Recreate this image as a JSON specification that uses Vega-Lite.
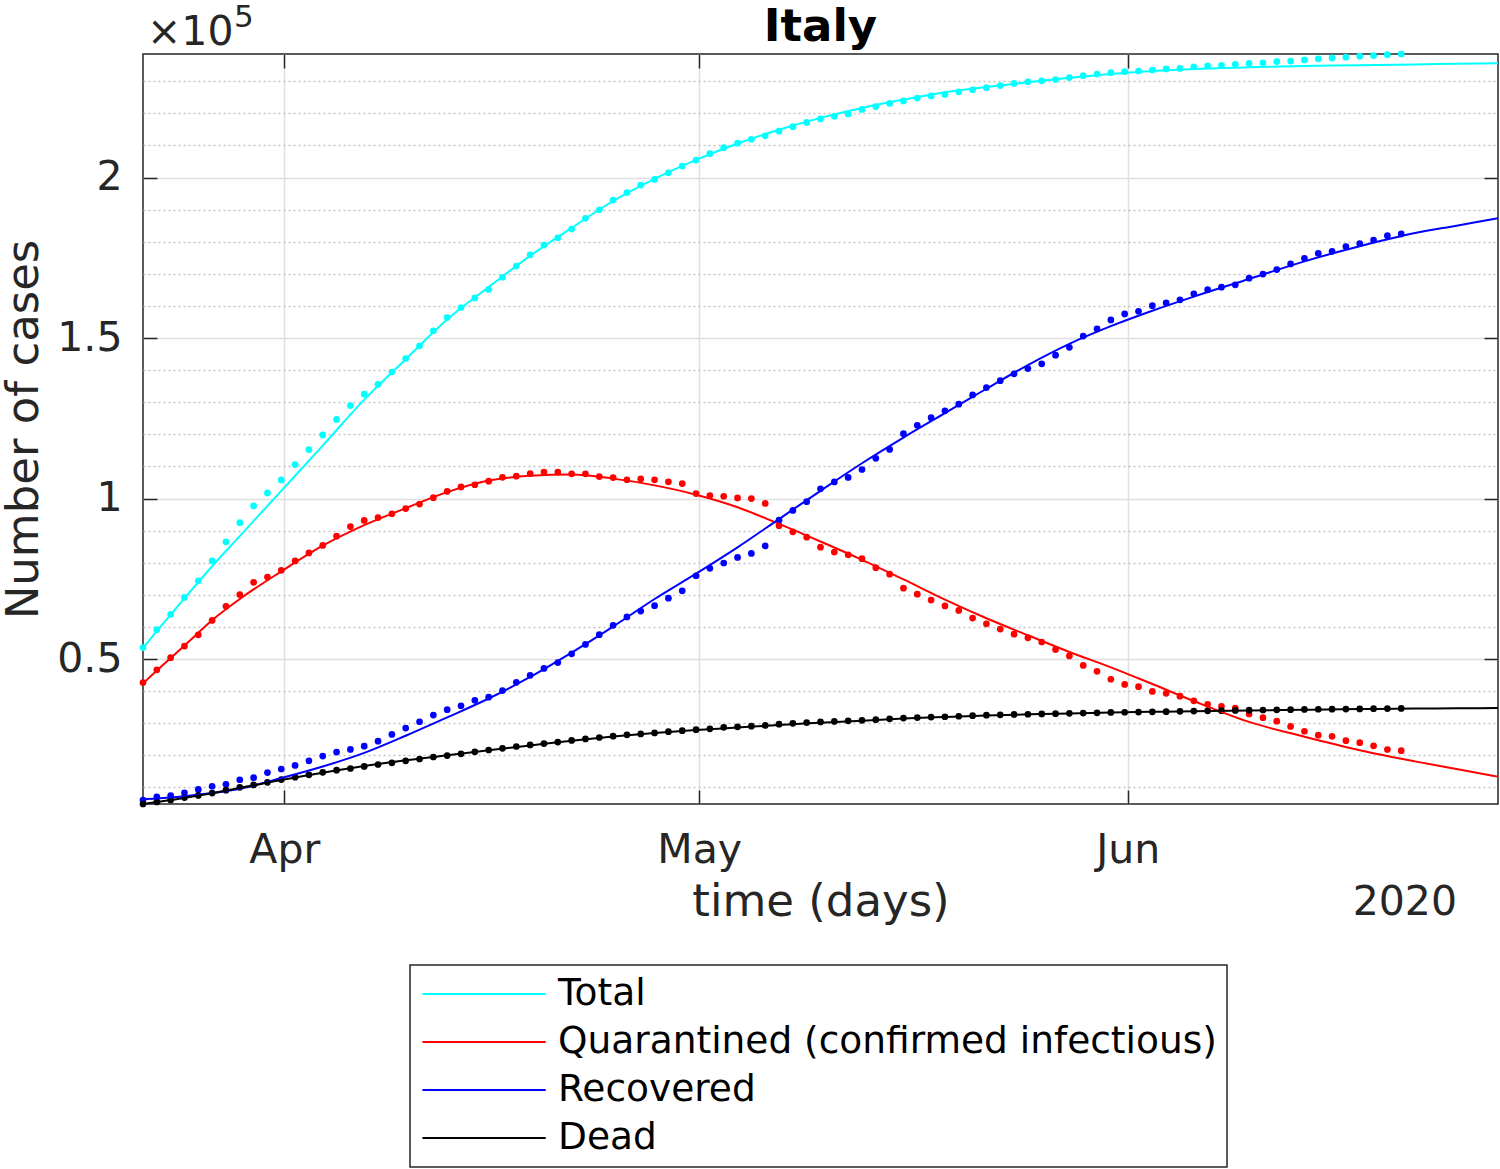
{
  "$schema": "https://vega.github.io/schema/vega-lite/v6.json",
  "width": 1355,
  "height": 750,
  "autosize": {"type": "none"},
  "padding": {"left": 143, "top": 54, "right": 2, "bottom": 365},
  "background": "#ffffff",
  "datasets": {
    "observed": [
      {"t":"2020-03-21T18:40","Total":53578,"Quarantined":42681,"Recovered":6072,"Dead":4825},
      {"t":"2020-03-22T18:40","Total":59138,"Quarantined":46638,"Recovered":7024,"Dead":5476},
      {"t":"2020-03-23T18:40","Total":63927,"Quarantined":50418,"Recovered":7432,"Dead":6077},
      {"t":"2020-03-24T18:40","Total":69176,"Quarantined":54030,"Recovered":8326,"Dead":6820},
      {"t":"2020-03-25T18:40","Total":74386,"Quarantined":57521,"Recovered":9362,"Dead":7503},
      {"t":"2020-03-26T18:40","Total":80589,"Quarantined":62013,"Recovered":10361,"Dead":8215},
      {"t":"2020-03-27T18:40","Total":86498,"Quarantined":66414,"Recovered":10950,"Dead":9134},
      {"t":"2020-03-28T18:40","Total":92472,"Quarantined":70065,"Recovered":12384,"Dead":10023},
      {"t":"2020-03-29T18:40","Total":97689,"Quarantined":73880,"Recovered":13030,"Dead":10779},
      {"t":"2020-03-30T18:40","Total":101739,"Quarantined":75528,"Recovered":14620,"Dead":11591},
      {"t":"2020-03-31T18:40","Total":105792,"Quarantined":77635,"Recovered":15729,"Dead":12428},
      {"t":"2020-04-01T18:40","Total":110574,"Quarantined":80572,"Recovered":16847,"Dead":13155},
      {"t":"2020-04-02T18:40","Total":115242,"Quarantined":83049,"Recovered":18278,"Dead":13915},
      {"t":"2020-04-03T18:40","Total":119827,"Quarantined":85388,"Recovered":19758,"Dead":14681},
      {"t":"2020-04-04T18:40","Total":124632,"Quarantined":88274,"Recovered":20996,"Dead":15362},
      {"t":"2020-04-05T18:40","Total":128948,"Quarantined":91246,"Recovered":21815,"Dead":15887},
      {"t":"2020-04-06T18:40","Total":132547,"Quarantined":93187,"Recovered":22837,"Dead":16523},
      {"t":"2020-04-07T18:40","Total":135586,"Quarantined":94067,"Recovered":24392,"Dead":17127},
      {"t":"2020-04-08T18:40","Total":139422,"Quarantined":95262,"Recovered":26491,"Dead":17669},
      {"t":"2020-04-09T18:40","Total":143626,"Quarantined":96877,"Recovered":28470,"Dead":18279},
      {"t":"2020-04-10T18:40","Total":147577,"Quarantined":98273,"Recovered":30455,"Dead":18849},
      {"t":"2020-04-11T18:40","Total":152271,"Quarantined":100269,"Recovered":32534,"Dead":19468},
      {"t":"2020-04-12T18:40","Total":156363,"Quarantined":102253,"Recovered":34211,"Dead":19899},
      {"t":"2020-04-13T18:40","Total":159516,"Quarantined":103616,"Recovered":35435,"Dead":20465},
      {"t":"2020-04-14T18:40","Total":162488,"Quarantined":104291,"Recovered":37130,"Dead":21067},
      {"t":"2020-04-15T18:40","Total":165155,"Quarantined":105418,"Recovered":38092,"Dead":21645},
      {"t":"2020-04-16T18:40","Total":168941,"Quarantined":106607,"Recovered":40164,"Dead":22170},
      {"t":"2020-04-17T18:40","Total":172434,"Quarantined":106962,"Recovered":42727,"Dead":22745},
      {"t":"2020-04-18T18:40","Total":175925,"Quarantined":107771,"Recovered":44927,"Dead":23227},
      {"t":"2020-04-19T18:40","Total":178972,"Quarantined":108257,"Recovered":47055,"Dead":23660},
      {"t":"2020-04-20T18:40","Total":181228,"Quarantined":108237,"Recovered":48877,"Dead":24114},
      {"t":"2020-04-21T18:40","Total":183957,"Quarantined":107709,"Recovered":51600,"Dead":24648},
      {"t":"2020-04-22T18:40","Total":187327,"Quarantined":107699,"Recovered":54543,"Dead":25085},
      {"t":"2020-04-23T18:40","Total":189973,"Quarantined":106848,"Recovered":57576,"Dead":25549},
      {"t":"2020-04-24T18:40","Total":192994,"Quarantined":106527,"Recovered":60498,"Dead":25969},
      {"t":"2020-04-25T18:40","Total":195351,"Quarantined":105847,"Recovered":63120,"Dead":26384},
      {"t":"2020-04-26T18:40","Total":197675,"Quarantined":106103,"Recovered":64928,"Dead":26644},
      {"t":"2020-04-27T18:40","Total":199414,"Quarantined":105813,"Recovered":66624,"Dead":26977},
      {"t":"2020-04-28T18:40","Total":201505,"Quarantined":105205,"Recovered":68941,"Dead":27359},
      {"t":"2020-04-29T18:40","Total":203591,"Quarantined":104657,"Recovered":71252,"Dead":27682},
      {"t":"2020-04-30T18:40","Total":205463,"Quarantined":101551,"Recovered":75945,"Dead":27967},
      {"t":"2020-05-01T18:40","Total":207428,"Quarantined":100943,"Recovered":78249,"Dead":28236},
      {"t":"2020-05-02T18:40","Total":209328,"Quarantined":100704,"Recovered":79914,"Dead":28710},
      {"t":"2020-05-03T18:40","Total":210717,"Quarantined":100179,"Recovered":81654,"Dead":28884},
      {"t":"2020-05-04T18:40","Total":211938,"Quarantined":99980,"Recovered":82879,"Dead":29079},
      {"t":"2020-05-05T18:40","Total":213013,"Quarantined":98467,"Recovered":85231,"Dead":29315},
      {"t":"2020-05-06T18:40","Total":214457,"Quarantined":91528,"Recovered":93245,"Dead":29684},
      {"t":"2020-05-07T18:40","Total":215858,"Quarantined":89624,"Recovered":96276,"Dead":29958},
      {"t":"2020-05-08T18:40","Total":217185,"Quarantined":87961,"Recovered":99023,"Dead":30201},
      {"t":"2020-05-09T18:40","Total":218268,"Quarantined":84842,"Recovered":103031,"Dead":30395},
      {"t":"2020-05-10T18:40","Total":219070,"Quarantined":83324,"Recovered":105186,"Dead":30560},
      {"t":"2020-05-11T18:40","Total":219814,"Quarantined":82488,"Recovered":106587,"Dead":30739},
      {"t":"2020-05-12T18:40","Total":221216,"Quarantined":81266,"Recovered":109039,"Dead":30911},
      {"t":"2020-05-13T18:40","Total":222104,"Quarantined":78457,"Recovered":112541,"Dead":31106},
      {"t":"2020-05-14T18:40","Total":223096,"Quarantined":76440,"Recovered":115288,"Dead":31368},
      {"t":"2020-05-15T18:40","Total":223885,"Quarantined":72070,"Recovered":120205,"Dead":31610},
      {"t":"2020-05-16T18:40","Total":224760,"Quarantined":70187,"Recovered":122810,"Dead":31763},
      {"t":"2020-05-17T18:40","Total":225435,"Quarantined":68351,"Recovered":125176,"Dead":31908},
      {"t":"2020-05-18T18:40","Total":225886,"Quarantined":66553,"Recovered":127326,"Dead":32007},
      {"t":"2020-05-19T18:40","Total":226699,"Quarantined":65129,"Recovered":129401,"Dead":32169},
      {"t":"2020-05-20T18:40","Total":227364,"Quarantined":62752,"Recovered":132282,"Dead":32330},
      {"t":"2020-05-21T18:40","Total":228006,"Quarantined":60960,"Recovered":134560,"Dead":32486},
      {"t":"2020-05-22T18:40","Total":228658,"Quarantined":59322,"Recovered":136720,"Dead":32616},
      {"t":"2020-05-23T18:40","Total":229327,"Quarantined":57752,"Recovered":138840,"Dead":32735},
      {"t":"2020-05-24T18:40","Total":229858,"Quarantined":56594,"Recovered":140479,"Dead":32785},
      {"t":"2020-05-25T18:40","Total":230158,"Quarantined":55300,"Recovered":141981,"Dead":32877},
      {"t":"2020-05-26T18:40","Total":230555,"Quarantined":52942,"Recovered":144658,"Dead":32955},
      {"t":"2020-05-27T18:40","Total":231139,"Quarantined":50966,"Recovered":147101,"Dead":33072},
      {"t":"2020-05-28T18:40","Total":231732,"Quarantined":47986,"Recovered":150604,"Dead":33142},
      {"t":"2020-05-29T18:40","Total":232248,"Quarantined":46175,"Recovered":152844,"Dead":33229},
      {"t":"2020-05-30T18:40","Total":232664,"Quarantined":43691,"Recovered":155633,"Dead":33340},
      {"t":"2020-05-31T18:40","Total":232997,"Quarantined":42075,"Recovered":157507,"Dead":33415},
      {"t":"2020-06-01T18:40","Total":233197,"Quarantined":41367,"Recovered":158355,"Dead":33475},
      {"t":"2020-06-02T18:40","Total":233515,"Quarantined":39893,"Recovered":160092,"Dead":33530},
      {"t":"2020-06-03T18:40","Total":233836,"Quarantined":39297,"Recovered":160938,"Dead":33601},
      {"t":"2020-06-04T18:40","Total":234013,"Quarantined":38429,"Recovered":161895,"Dead":33689},
      {"t":"2020-06-05T18:40","Total":234531,"Quarantined":36976,"Recovered":163781,"Dead":33774},
      {"t":"2020-06-06T18:40","Total":234801,"Quarantined":35877,"Recovered":165078,"Dead":33846},
      {"t":"2020-06-07T18:40","Total":234998,"Quarantined":35262,"Recovered":165837,"Dead":33899},
      {"t":"2020-06-08T18:40","Total":235278,"Quarantined":34730,"Recovered":166584,"Dead":33964},
      {"t":"2020-06-09T18:40","Total":235561,"Quarantined":32872,"Recovered":168646,"Dead":34043},
      {"t":"2020-06-10T18:40","Total":235763,"Quarantined":31710,"Recovered":169939,"Dead":34114},
      {"t":"2020-06-11T18:40","Total":236142,"Quarantined":30637,"Recovered":171338,"Dead":34167},
      {"t":"2020-06-12T18:40","Total":236305,"Quarantined":28997,"Recovered":173085,"Dead":34223},
      {"t":"2020-06-13T18:40","Total":236651,"Quarantined":27485,"Recovered":174865,"Dead":34301},
      {"t":"2020-06-14T18:40","Total":236989,"Quarantined":26274,"Recovered":176370,"Dead":34345},
      {"t":"2020-06-15T18:40","Total":237290,"Quarantined":25909,"Recovered":177010,"Dead":34371},
      {"t":"2020-06-16T18:40","Total":237500,"Quarantined":24569,"Recovered":178526,"Dead":34405},
      {"t":"2020-06-17T18:40","Total":237828,"Quarantined":23925,"Recovered":179455,"Dead":34448},
      {"t":"2020-06-18T18:40","Total":238011,"Quarantined":22953,"Recovered":180544,"Dead":34514},
      {"t":"2020-06-19T18:40","Total":238275,"Quarantined":21807,"Recovered":181907,"Dead":34561},
      {"t":"2020-06-20T18:40","Total":238499,"Quarantined":21436,"Recovered":182453,"Dead":34610}
    ],
    "fitted": [
      {"t":"2020-03-21T18:40","Total":53400,"Quarantined":42400,"Recovered":6380,"Dead":4830},
      {"t":"2020-03-22T18:40","Total":58700,"Quarantined":46400,"Recovered":6550,"Dead":5450},
      {"t":"2020-03-23T18:40","Total":63800,"Quarantined":50300,"Recovered":6850,"Dead":6050},
      {"t":"2020-03-24T18:40","Total":68900,"Quarantined":54200,"Recovered":7250,"Dead":6750},
      {"t":"2020-03-26T18:40","Total":78900,"Quarantined":62100,"Recovered":8250,"Dead":8200},
      {"t":"2020-03-28T18:40","Total":88300,"Quarantined":68700,"Recovered":9600,"Dead":9800},
      {"t":"2020-03-31T18:40","Total":102400,"Quarantined":77300,"Recovered":12900,"Dead":12300},
      {"t":"2020-04-03T18:40","Total":116500,"Quarantined":85300,"Recovered":16500,"Dead":14550},
      {"t":"2020-04-06T18:40","Total":130800,"Quarantined":91700,"Recovered":20750,"Dead":16650},
      {"t":"2020-04-09T18:40","Total":143400,"Quarantined":97000,"Recovered":26100,"Dead":18450},
      {"t":"2020-04-12T18:40","Total":155800,"Quarantined":102000,"Recovered":31800,"Dead":20000},
      {"t":"2020-04-15T18:40","Total":165900,"Quarantined":105600,"Recovered":37700,"Dead":21550},
      {"t":"2020-04-18T18:40","Total":175600,"Quarantined":107100,"Recovered":44400,"Dead":23050},
      {"t":"2020-04-21T18:40","Total":184300,"Quarantined":107500,"Recovered":52000,"Dead":24550},
      {"t":"2020-04-24T18:40","Total":192700,"Quarantined":106200,"Recovered":60100,"Dead":25850},
      {"t":"2020-04-27T18:40","Total":199600,"Quarantined":104100,"Recovered":68700,"Dead":26950},
      {"t":"2020-04-30T18:40","Total":205500,"Quarantined":101200,"Recovered":76600,"Dead":27850},
      {"t":"2020-05-03T18:40","Total":210600,"Quarantined":97300,"Recovered":84800,"Dead":28650},
      {"t":"2020-05-06T18:40","Total":214900,"Quarantined":92100,"Recovered":93600,"Dead":29450},
      {"t":"2020-05-09T18:40","Total":218600,"Quarantined":86600,"Recovered":102400,"Dead":30150},
      {"t":"2020-05-12T18:40","Total":221700,"Quarantined":80900,"Recovered":111000,"Dead":30800},
      {"t":"2020-05-15T18:40","Total":224300,"Quarantined":74800,"Recovered":119000,"Dead":31450},
      {"t":"2020-05-18T18:40","Total":226600,"Quarantined":68500,"Recovered":126600,"Dead":31950},
      {"t":"2020-05-21T18:40","Total":228200,"Quarantined":62700,"Recovered":134200,"Dead":32400},
      {"t":"2020-05-24T18:40","Total":229700,"Quarantined":57400,"Recovered":141600,"Dead":32750},
      {"t":"2020-05-27T18:40","Total":231100,"Quarantined":52200,"Recovered":148200,"Dead":33050},
      {"t":"2020-05-30T18:40","Total":232300,"Quarantined":47400,"Recovered":153700,"Dead":33300},
      {"t":"2020-06-02T18:40","Total":233200,"Quarantined":42200,"Recovered":158500,"Dead":33550},
      {"t":"2020-06-05T18:40","Total":233850,"Quarantined":36900,"Recovered":162900,"Dead":33750},
      {"t":"2020-06-09T18:40","Total":234350,"Quarantined":30400,"Recovered":168400,"Dead":33980},
      {"t":"2020-06-13T18:40","Total":234750,"Quarantined":25800,"Recovered":173900,"Dead":34200},
      {"t":"2020-06-17T18:40","Total":235020,"Quarantined":21600,"Recovered":178600,"Dead":34400},
      {"t":"2020-06-21T18:40","Total":235260,"Quarantined":18100,"Recovered":182700,"Dead":34550},
      {"t":"2020-06-24T18:40","Total":235430,"Quarantined":15700,"Recovered":185000,"Dead":34650},
      {"t":"2020-06-27T18:40","Total":235600,"Quarantined":13350,"Recovered":187300,"Dead":34730}
    ]
  },
  "resolve": {"axis": {"x": "independent", "y": "independent"}},
  "layer": [
    {
      "data": {"name": "observed"},
      "transform": [{"fold": ["Total", "Quarantined", "Recovered", "Dead"], "as": ["obs_series", "cases"]}],
      "mark": {"type": "point", "filled": true, "size": 45, "opacity": 1},
      "encoding": {
        "x": {
          "field": "t", "type": "temporal",
          "scale": {"domain": [{"year": 2020, "month": 3, "date": 21, "hours": 18, "minutes": 40}, {"year": 2020, "month": 6, "date": 27, "hours": 18, "minutes": 40}]},
          "axis": {"orient": "top", "values": [{"year": 2020, "month": 4, "date": 1}, {"year": 2020, "month": 5, "date": 1}, {"year": 2020, "month": 6, "date": 1}], "labels": false, "grid": false, "title": null, "tickSize": -14}
        },
        "y": {
          "field": "cases", "type": "quantitative",
          "scale": {"domain": [4825, 238499], "nice": false, "zero": false},
          "axis": {"orient": "right", "values": [50000, 100000, 150000, 200000], "labels": false, "grid": false, "title": null, "tickSize": -14}
        },
        "fill": {
          "field": "obs_series", "type": "nominal",
          "scale": {"domain": ["Dead", "Recovered", "Quarantined", "Total"], "range": ["#000000", "#0000ff", "#ff0000", "#00ffff"]},
          "legend": null
        }
      }
    },
    {
      "data": {"name": "fitted"},
      "transform": [{"fold": ["Total", "Quarantined", "Recovered", "Dead"], "as": ["series", "cases"]}],
      "mark": {"type": "line", "strokeWidth": 2, "interpolate": "monotone"},
      "encoding": {
        "x": {
          "field": "t", "type": "temporal",
          "axis": {"orient": "bottom", "values": [{"year": 2020, "month": 4, "date": 1}, {"year": 2020, "month": 5, "date": 1}, {"year": 2020, "month": 6, "date": 1}], "format": "%b", "title": "time (days)", "titleY": 111, "titleBaseline": "alphabetic", "grid": true, "tickSize": -14, "labelPadding": 72, "labelBaseline": "alphabetic", "labelAlign": "center", "labelFlush": false, "labelOverlap": false}
        },
        "y": {
          "field": "cases", "type": "quantitative",
          "axis": {"orient": "left", "values": [50000, 100000, 150000, 200000], "labelExpr": "datum.value / 100000", "title": "Number of cases", "titleX": -106, "titleY": 375, "titleBaseline": "alphabetic", "titleAlign": "center", "titleAngle": 270, "grid": true, "tickSize": -14, "labelPadding": 35}
        },
        "stroke": {
          "field": "series", "type": "nominal",
          "scale": {"domain": ["Total", "Quarantined", "Recovered", "Dead"], "range": ["#00ffff", "#ff0000", "#0000ff", "#000000"]},
          "legend": {
            "orient": "none", "legendX": 267, "legendY": 911, "title": null, "direction": "vertical",
            "labelFont": "DejaVu Sans", "labelFontSize": 37.5, "labelColor": "#000000", "labelLimit": 1000,
            "labelExpr": "datum.label == 'Quarantined' ? 'Quarantined (confirmed infectious)' : datum.label",
            "symbolType": "M-0.92,0H5.93", "symbolSize": 1296, "symbolStrokeWidth": 2,
            "labelOffset": 100, "rowPadding": 10, "padding": 10,
            "strokeColor": "#262626", "fillColor": "#ffffff",
            "encode": {"legend": {"update": {"strokeWidth": {"value": 1.5}}}}
          }
        }
      }
    },
    {
      "data": {"values": [{"label": "×10"}]},
      "mark": {"type": "text", "align": "left", "baseline": "alphabetic", "dx": 4, "dy": -9, "font": "DejaVu Sans", "fontSize": 41, "color": "#262626"},
      "encoding": {
        "x": {"datum": {"year": 2020, "month": 3, "date": 21, "hours": 18, "minutes": 40}, "type": "temporal", "axis": null},
        "y": {"datum": 238499, "type": "quantitative", "axis": {"orient": "left", "values": [10000, 20000, 30000, 40000, 60000, 70000, 80000, 90000, 110000, 120000, 130000, 140000, 160000, 170000, 180000, 190000, 210000, 220000, 230000], "labels": false, "ticks": false, "domain": false, "title": null, "grid": true, "gridColor": "#c4c4c4", "gridDash": [2, 3], "gridWidth": 1.5}},
        "text": {"field": "label"}
      }
    },
    {
      "data": {"values": [{"label": "5"}]},
      "mark": {"type": "text", "align": "left", "baseline": "alphabetic", "dx": 91, "dy": -27, "font": "DejaVu Sans", "fontSize": 31, "color": "#262626"},
      "encoding": {
        "x": {"datum": {"year": 2020, "month": 3, "date": 21, "hours": 18, "minutes": 40}, "type": "temporal", "axis": null},
        "y": {"datum": 238499, "type": "quantitative", "axis": null},
        "text": {"field": "label"}
      }
    },
    {
      "data": {"values": [{"label": "Italy"}]},
      "mark": {"type": "text", "align": "center", "baseline": "alphabetic", "dy": -13, "font": "DejaVu Sans", "fontSize": 45, "fontWeight": "bold", "color": "#000000"},
      "encoding": {
        "x": {"datum": {"year": 2020, "month": 5, "date": 9, "hours": 18, "minutes": 40}, "type": "temporal", "axis": null},
        "y": {"datum": 238499, "type": "quantitative", "axis": null},
        "text": {"field": "label"}
      }
    },
    {
      "data": {"values": [{"label": "2020"}]},
      "mark": {"type": "text", "align": "center", "baseline": "alphabetic", "dy": 111, "font": "DejaVu Sans", "fontSize": 41, "color": "#262626"},
      "encoding": {
        "x": {"datum": {"year": 2020, "month": 6, "date": 21, "hours": 1}, "type": "temporal", "axis": null},
        "y": {"datum": 4825, "type": "quantitative", "axis": null},
        "text": {"field": "label"}
      }
    }
  ],
  "config": {
    "view": {"stroke": "#262626", "strokeWidth": 1.5},
    "axis": {
      "labelFont": "DejaVu Sans", "titleFont": "DejaVu Sans", "labelFontSize": 41, "titleFontSize": 45,
      "labelColor": "#262626", "titleColor": "#262626", "titleFontWeight": "normal",
      "domain": false, "tickColor": "#262626", "tickWidth": 1.5,
      "gridColor": "#dfdfdf", "gridWidth": 1.5
    }
  }
}
